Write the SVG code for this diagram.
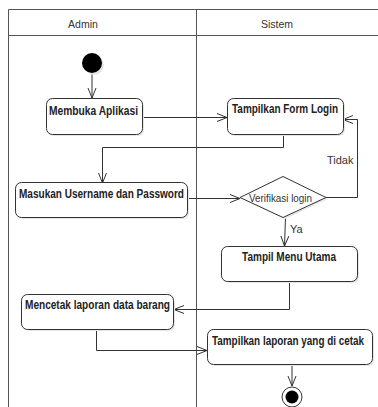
<svg xmlns="http://www.w3.org/2000/svg" width="378" height="407" viewBox="0 0 378 407">
  <style>
    .lane { fill: none; stroke: #555; stroke-width: 1; }
    .head { font-family: "Liberation Sans", Arial, sans-serif; font-size: 10.5px; fill: #333; }
    .act rect.box { fill: #fff; stroke: #333; stroke-width: 1; }
    .shadow { fill: #e6e6e6; }
    .label { font-family: "Liberation Sans", Arial, sans-serif; font-size: 12px; font-weight: bold; fill: #222; }
    .note { font-family: "Liberation Sans", Arial, sans-serif; font-size: 11px; fill: #333; }
    .edge { fill: none; stroke: #333; stroke-width: 1; marker-end: url(#open); }
  </style>
  <defs>
    <marker id="open" viewBox="0 0 10 10" refX="10" refY="5" markerWidth="10" markerHeight="10" markerUnits="userSpaceOnUse" orient="auto">
      <polyline points="0,1 10,5 0,9" fill="none" stroke="#333" stroke-width="1"/>
    </marker>
  </defs>
  <rect width="378" height="407" fill="#fff"/>

  <!-- swimlanes -->
  <g id="lanes">
    <path class="lane" d="M8.5,407 V9.5 H378 M8.5,35.5 H378 M196.5,9.5 V407"/>
    <text class="head" x="83" y="28" text-anchor="middle">Admin</text>
    <text class="head" x="277" y="28" text-anchor="middle">Sistem</text>
  </g>

  <!-- connectors -->
  <g id="connectors">
    <path class="edge" d="M92,73 V98"/>
    <path class="edge" d="M142,117.5 H227"/>
    <path class="edge" d="M283.5,134 V147.5 H102.5 V183"/>
    <path class="edge" d="M188,198.5 H240"/>
    <path class="edge" d="M326,197.5 H357.5 V119.5 H343"/>
    <path class="edge" d="M285.5,217 L284.5,246"/>
    <path class="edge" d="M289.5,281 V309.5 H174"/>
    <path class="edge" d="M96.5,329 V350.5 H207"/>
    <path class="edge" d="M292,364 V386"/>
    <text class="note" x="327" y="164">Tidak</text>
    <text class="note" x="290" y="233">Ya</text>
  </g>

  <!-- start -->
  <g id="start">
    <circle cx="94" cy="65" r="10" class="shadow"/>
    <circle cx="92" cy="63" r="10" fill="#000"/>
  </g>

  <g id="membuka" class="act">
    <rect class="shadow" x="48" y="100" width="96" height="36" rx="6"/>
    <rect class="box" x="46.5" y="98.5" width="96" height="36" rx="6"/>
    <text class="label" x="49" y="115" textLength="89" lengthAdjust="spacingAndGlyphs">Membuka Aplikasi</text>
  </g>

  <g id="form-login" class="act">
    <rect class="shadow" x="229" y="100" width="116" height="36" rx="6"/>
    <rect class="box" x="227.5" y="98.5" width="116" height="36" rx="6"/>
    <text class="label" x="232" y="113" textLength="106" lengthAdjust="spacingAndGlyphs">Tampilkan Form Login</text>
  </g>

  <g id="masukan" class="act">
    <rect class="shadow" x="17" y="184" width="172" height="35" rx="6"/>
    <rect class="box" x="15.5" y="182.5" width="172" height="35" rx="6"/>
    <text class="label" x="19" y="198" textLength="165" lengthAdjust="spacingAndGlyphs">Masukan Username dan Password</text>
  </g>

  <g id="verifikasi">
    <polygon points="285,178 328,199 285,219 242,199" class="shadow"/>
    <polygon points="283,176.5 326,197.5 283,217.5 240,197.5" fill="#fff" stroke="#333" stroke-width="1"/>
    <text class="note" x="249" y="202" textLength="63" lengthAdjust="spacingAndGlyphs">Verifikasi login</text>
  </g>

  <g id="menu-utama" class="act">
    <rect class="shadow" x="223" y="248" width="136" height="35" rx="6"/>
    <rect class="box" x="221.5" y="246.5" width="136" height="35" rx="6"/>
    <text class="label" x="242" y="261" textLength="94" lengthAdjust="spacingAndGlyphs">Tampil Menu Utama</text>
  </g>

  <g id="mencetak" class="act">
    <rect class="shadow" x="23" y="296" width="152" height="35" rx="6"/>
    <rect class="box" x="21.5" y="294.5" width="152" height="35" rx="6"/>
    <text class="label" x="25" y="309" textLength="145" lengthAdjust="spacingAndGlyphs">Mencetak laporan data barang</text>
  </g>

  <g id="tampil-laporan" class="act">
    <rect class="shadow" x="209" y="331" width="165" height="35" rx="6"/>
    <rect class="box" x="207.5" y="329.5" width="165" height="35" rx="6"/>
    <text class="label" x="212" y="345" textLength="152" lengthAdjust="spacingAndGlyphs">Tampilkan laporan yang di cetak</text>
  </g>

  <g id="end">
    <circle cx="292" cy="397" r="10" fill="#fff" stroke="#333" stroke-width="1"/>
    <circle cx="292" cy="397" r="6.5" fill="#000"/>
  </g>
</svg>
